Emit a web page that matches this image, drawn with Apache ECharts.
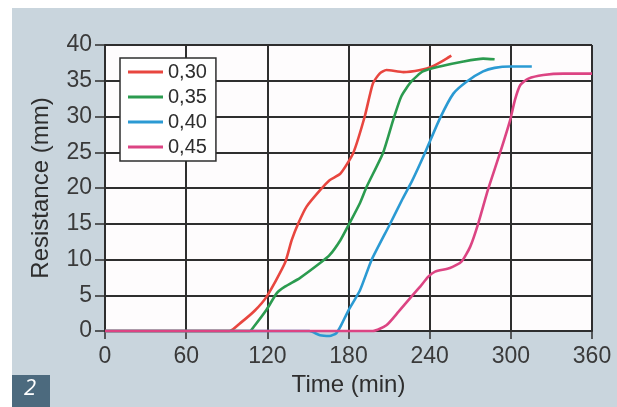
<!DOCTYPE html>
<html>
<head>
<meta charset="utf-8">
<script src="https://cdn.jsdelivr.net/npm/echarts@6/dist/echarts.min.js"></script>
<style>
  html, body { margin: 0; padding: 0; background: #fff; }
  #chart { width: 617px; height: 407px; }
</style>
</head>
<body>
<div id="chart"></div>
<script>
  // series names (w/c ratio) and readings [time min, resistance mm]
  var seriesNames = ['0,30', '0,35', '0,40', '0,45']
  var seriesColors = ['#e8463f', '#2b9b4f', '#2b9ad3', '#dc4483']

  var red030 = [[0, 0], [92, 0], [100, 1.1], [111, 2.9], [119.5, 4.8], [133, 9.5], [138, 12.7], [143, 15.1],
    [149, 17.4], [159, 19.7], [166, 21.1], [174, 22], [183.5, 24.9], [192, 30], [198, 34.6], [203, 36],
    [208, 36.5], [220.5, 36.2], [233, 36.5], [242, 37], [252.5, 38.1], [256, 38.5]]
  var green035 = [[0, 0], [107, 0], [110, 0.6], [119.5, 3], [127, 5.3], [133, 6.2], [144, 7.4], [159, 9.5],
    [166, 10.6], [174, 12.7], [180, 14.8], [188.5, 17.9], [193.5, 20.2], [205.5, 24.9], [213, 29.5],
    [219, 32.8], [226.5, 34.9], [235, 36.3], [247.5, 37], [265, 37.7], [279.5, 38.1], [288, 38]]
  var blue040 = [[0, 0], [151, 0], [159, -0.6], [166, -0.7], [171, -0.3], [174, 0.6], [180, 2.9], [188.5, 5.7],
    [197, 9.9], [210.5, 14.9], [220, 18.5], [227, 21], [236.5, 24.9], [247.5, 29.7], [257.5, 33.2],
    [267.5, 34.9], [279.5, 36.3], [288, 36.8], [299.5, 37], [315.5, 37]]
  var pink045 = [[0, 0], [198, 0], [208, 0.8], [217, 2.7], [226.5, 4.8], [233, 6.2], [239, 7.6], [244, 8.3],
    [255, 8.8], [263.5, 9.7], [270, 11.8], [276, 15.1], [283, 19.7], [292, 24.9], [299.5, 29.5], [303, 32.3],
    [307, 34.4], [313, 35.3], [324, 35.8], [339, 36], [360, 36]]

  var xTicks = [0, 60, 120, 180, 240, 300, 360]
  var yTicks = [0, 5, 10, 15, 20, 25, 30, 35, 40]

  var allData = [red030, green035, blue040, pink045]
  var ink = '#2e2e2e'
  var labelFont = 'Liberation Sans, Arial, sans-serif'

  var series = []
  for (var i = 0; i < allData.length; i++) {
    series.push({
      name: seriesNames[i],
      type: 'line',
      data: allData[i],
      symbol: 'none',
      smooth: 0.2,
      clip: false,
      lineStyle: {color: seriesColors[i], width: 2.6},
      itemStyle: {color: seriesColors[i]}
    })
  }

  var option = {
    animation: false,
    backgroundColor: '#ffffff',
    graphic: [
      // grey-blue panel
      {type: 'rect', left: 12, top: 8, shape: {width: 605, height: 399}, style: {fill: '#c9d5dd'}, z: -10},
      // figure number box
      {type: 'rect', left: 12, top: 375, shape: {width: 38, height: 32}, style: {fill: '#4c6a7e'}, z: 10},
      {type: 'text', left: 24, top: 378, style: {text: '2', fill: '#ffffff', font: 'italic 22px "Open Sans", sans-serif'}, z: 11}
    ],
    grid: {
      left: 105, top: 45, width: 487, height: 286,
      show: true, backgroundColor: '#fefcfd', borderWidth: 0
    },
    legend: {
      orient: 'vertical',
      left: 120, top: 58,
      padding: [4, 9, 4, 8],
      itemGap: 5,
      itemWidth: 35, itemHeight: 3,
      icon: 'rect',
      backgroundColor: '#ffffff',
      borderColor: ink, borderWidth: 1.5,
      textStyle: {fontSize: 20, color: ink, fontFamily: labelFont},
      data: seriesNames
    },
    xAxis: {
      type: 'value',
      min: xTicks[0], max: xTicks[xTicks.length - 1], interval: 60,
      name: 'Time (min)',
      nameLocation: 'middle',
      nameGap: 33,
      nameTextStyle: {fontSize: 24, color: ink, fontFamily: labelFont},
      axisLine: {show: true, lineStyle: {color: ink, width: 2}},
      axisTick: {show: true, length: 8, lineStyle: {color: ink, width: 1.5}},
      axisLabel: {fontSize: 23, color: '#3a3a3a', fontFamily: labelFont, margin: 14},
      splitLine: {show: true, lineStyle: {color: ink, width: 2}}
    },
    yAxis: {
      type: 'value',
      min: yTicks[0], max: yTicks[yTicks.length - 1], interval: 5,
      name: 'Resistance (mm)',
      nameLocation: 'middle',
      nameGap: 52,
      nameTextStyle: {fontSize: 24, color: ink, fontFamily: labelFont},
      axisLine: {show: true, lineStyle: {color: ink, width: 2}},
      axisTick: {show: true, length: 10, lineStyle: {color: ink, width: 1.5}},
      axisLabel: {fontSize: 23, color: '#3a3a3a', fontFamily: labelFont, margin: 13},
      splitLine: {show: true, lineStyle: {color: ink, width: 2}}
    },
    series: series
  }

  echarts.init(document.getElementById('chart'), null, {renderer: 'canvas'}).setOption(option)
</script>
</body>
</html>
